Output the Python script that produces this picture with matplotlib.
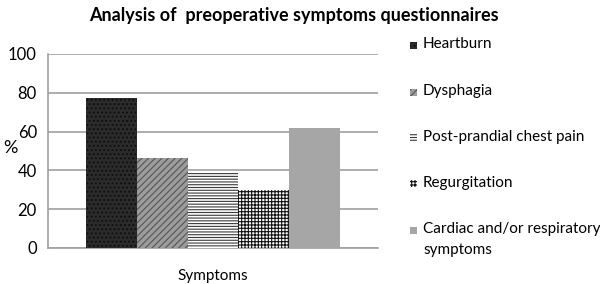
import matplotlib.pyplot as plt
from matplotlib.patches import Rectangle

title = "Analysis of  preoperative symptoms questionnaires"
category = "Symptoms"
labels = ["Heartburn", "Dysphagia", "Post-prandial chest pain", "Regurgitation",
          "Cardiac and/or respiratory\nsymptoms"]
values = [77.3, 46.4, 39.2, 29.9, 61.9]
yticks = [0, 20, 40, 60, 80, 100]

faces = ["#2b2b2b", "#9c9c9c", "#ffffff", "#ffffff", "#a6a6a6"]
hatch_colors = ["#0d0d0d", "#555555", "#3a3a3a", "#111111", "#a6a6a6"]
hatches = ["....", "/////", "------", "+++++", None]

plt.rcParams["font.family"] = ["Lato", "DejaVu Sans"]
plt.rcParams["hatch.linewidth"] = 0.8

fig = plt.figure(figsize=(6, 2.84), dpi=100)
ax = fig.add_axes([0.08, 0.127, 0.55, 0.683])

width = 0.154
offsets = [(i - 2) * width for i in range(len(values))]
for off, v, fc, hc, h in zip(offsets, values, faces, hatch_colors, hatches):
    ax.bar(off, v, width=width, color=fc, edgecolor=hc, hatch=h, linewidth=0, zorder=3)

ax.set_xlim(-0.5, 0.5)
ax.set_ylim(0, 100)
ax.set_yticks(yticks)
ax.set_xticks([0])
ax.set_xticklabels([category])
ax.tick_params(axis="y", length=0, labelsize=12, pad=8)
ax.tick_params(axis="x", length=0, labelsize=11, pad=15)
ax.yaxis.grid(True, color="#a0a0a0", linewidth=1.2, zorder=0)
for s in ["top", "right"]:
    ax.spines[s].set_visible(False)
for s in ["left", "bottom"]:
    ax.spines[s].set_color("#a0a0a0")
    ax.spines[s].set_linewidth(1.2)

fig.text(0.005, 1 - 148 / 284, "%", ha="left", va="center", fontsize=13)
fig.text(0.49, 1 - 15 / 284, title, ha="center", va="center", fontsize=13, fontweight="bold")

# legend drawn by hand to match the spacing
legend_y = [45, 92, 137, 183, 230]
for y, lab, fc, hc, h in zip(legend_y, labels, faces, hatch_colors, hatches):
    fy = 1 - y / 284
    fig.add_artist(Rectangle((410 / 600, fy - 3.5 / 284), 7 / 600, 7 / 284,
                             transform=fig.transFigure, facecolor=fc, edgecolor=hc,
                             hatch=h, linewidth=0))
    fig.text(423 / 600, fy + 7.5 / 284, lab, ha="left", va="top", fontsize=11,
             linespacing=1.55)

fig.savefig("out.png", dpi=100)
